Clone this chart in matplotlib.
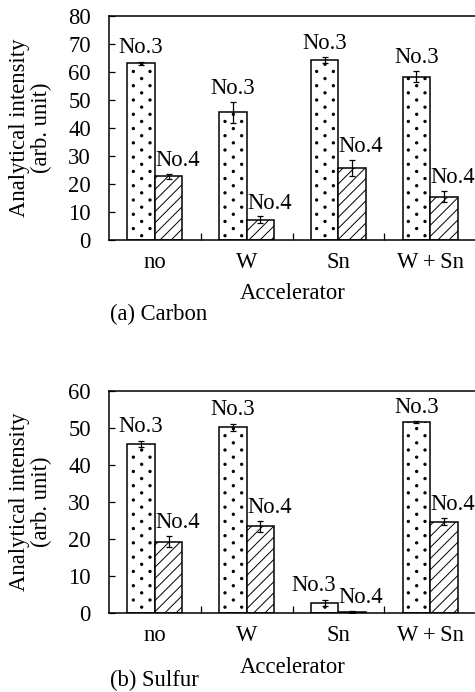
import matplotlib
matplotlib.use("Agg")
import matplotlib.pyplot as plt
import matplotlib.hatch as mhatch
from matplotlib.path import Path
import numpy as np

# ---------------- data ----------------
categories = ["no", "W", "Sn", "W\u2009+\u2009Sn"]
series_names = ["No.3", "No.4"]

carbon_no3 = [63.0, 45.5, 64.3, 58.2]
carbon_no3_err = [0.6, 3.6, 1.0, 2.0]
carbon_no4 = [22.7, 7.2, 25.8, 15.5]
carbon_no4_err = [0.8, 1.2, 2.8, 2.0]

sulfur_no3 = [45.6, 50.1, 2.9, 51.5]
sulfur_no3_err = [0.9, 1.0, 0.8, 0.2]
sulfur_no4 = [19.3, 23.5, 0.3, 24.7]
sulfur_no4_err = [1.5, 1.5, 0.3, 1.0]

carbon_yticks = [0, 10, 20, 30, 40, 50, 60, 70, 80]
sulfur_yticks = [0, 10, 20, 30, 40, 50, 60]

# ---------------- custom staggered dot hatch ----------------
class StaggeredDots(mhatch.HatchPatternBase):
    def __init__(self, hatch, density):
        n = hatch.count('.')
        self.nr = 14 * n
        self.nc = 6 * n
        circ = Path.unit_circle()
        self.sv = circ.vertices
        self.sc = circ.codes
        if n == 0:
            self.num_vertices = 0
        else:
            count = 0
            for r in range(self.nr + 1):
                count += (self.nc + 1) if r % 2 == 0 else self.nc
            self.num_vertices = count * len(self.sv)

    def set_vertices_and_codes(self, vertices, codes):
        radius = 0.0115
        sv = self.sv * radius
        vparts, cparts = [], []
        for r in range(self.nr + 1):
            if r % 2 == 0:
                cols = np.linspace(0, 1, self.nc + 1)
            else:
                cols = (np.arange(self.nc) + 0.5) / self.nc
            y = r / self.nr
            for c in cols:
                vparts.append(sv + [c, y])
                cparts.append(self.sc)
        np.concatenate(vparts, out=vertices)
        np.concatenate(cparts, out=codes)

mhatch._hatch_types = [StaggeredDots if t is mhatch.SmallFilledCircles else t
                       for t in mhatch._hatch_types]

# ---------------- style ----------------
plt.rcParams['font.family'] = ['Liberation Serif', 'DejaVu Serif']
plt.rcParams['font.size'] = 16.3
plt.rcParams['hatch.linewidth'] = 0.7
plt.rcParams['hatch.color'] = 'black'

W, H = 475, 692
fig = plt.figure(figsize=(W / 100, H / 100), dpi=100)

left_px, right_px = 109, 476


def make_axes(top_px, bottom_px):
    return fig.add_axes([left_px / W, 1 - bottom_px / H,
                         (right_px - left_px) / W, (bottom_px - top_px) / H])


def panel(ax, v3, e3, v4, e4, yticks, nudge3=None):
    x = np.arange(len(categories))
    bw = 0.3
    ekw = dict(elinewidth=0.9, capthick=0.9, ecolor='black')
    ax.bar(x - bw / 2, v3, bw, color='white', edgecolor='black', hatch='.',
           linewidth=1.1, yerr=e3, capsize=2.5, error_kw=ekw)
    ax.bar(x + bw / 2, v4, bw, color='white', edgecolor='black', hatch='///',
           linewidth=1.1, yerr=e4, capsize=2.5, error_kw=ekw)
    nudge3 = nudge3 or {}
    for i in range(len(categories)):
        dx = nudge3.get(i, 0)
        ax.annotate(series_names[0], (x[i] - bw / 2, v3[i] + e3[i]),
                    xytext=(dx, 10), textcoords='offset points',
                    ha='center', va='center')
        ax.annotate(series_names[1], (x[i] + bw / 2, v4[i] + e4[i]),
                    xytext=(6.5, 9.5), textcoords='offset points',
                    ha='center', va='center')
    ax.set_xlim(-0.5, len(categories) - 0.5)
    ax.set_ylim(yticks[0], yticks[-1])
    ax.set_yticks(yticks)
    ax.set_xticks(x)
    ax.set_xticklabels(categories)
    ax.set_xticks(x[:-1] + 0.5, minor=True)
    ax.tick_params(axis='x', which='major', length=0, pad=8.5)
    ax.tick_params(axis='x', which='minor', direction='in', length=5, width=0.9)
    ax.tick_params(axis='y', direction='in', length=4, width=0.9, pad=13)
    ax.spines['right'].set_visible(False)
    for s in ['left', 'top', 'bottom']:
        ax.spines[s].set_linewidth(1.1)
    ax.set_xlabel("Accelerator", labelpad=7.5)


ax1 = make_axes(15.7, 240)
panel(ax1, carbon_no3, carbon_no3_err, carbon_no4, carbon_no4_err, carbon_yticks)
ax2 = make_axes(390.7, 613.3)
panel(ax2, sulfur_no3, sulfur_no3_err, sulfur_no4, sulfur_no4_err, sulfur_yticks,
      nudge3={2: -8})

ylab = "Analytical intensity\n(arb. unit)"
fig.text(30.5 / W, 1 - 127.9 / H, ylab, rotation=90, ha='center', va='center',
         multialignment='center', linespacing=1.05)
fig.text(30.5 / W, 1 - 502 / H, ylab, rotation=90, ha='center', va='center',
         multialignment='center', linespacing=1.05)
fig.text(110 / W, 1 - 314 / H, "(a) Carbon", ha='left', va='center')
fig.text(110 / W, 1 - 680 / H, "(b) Sulfur", ha='left', va='center')

fig.savefig("out.png", dpi=100)
